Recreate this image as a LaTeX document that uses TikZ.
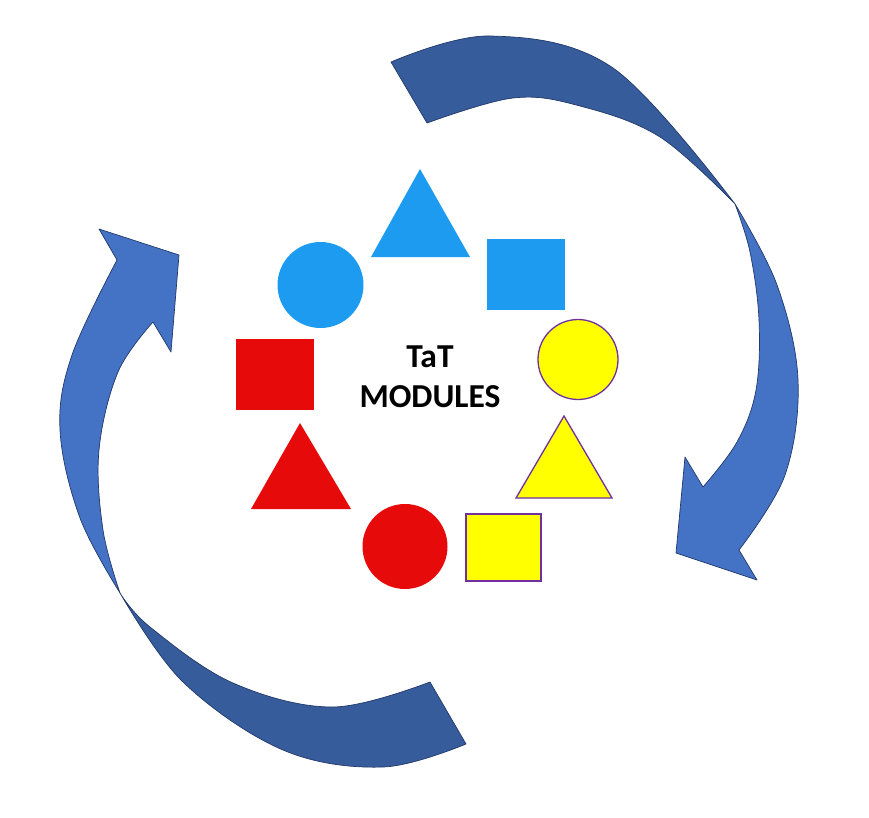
\documentclass[tikz,border=0pt]{standalone}
\usepackage{fontspec}
\setmainfont{Carlito}
\definecolor{arrowdark}{HTML}{375C9B}
\definecolor{arrowlight}{HTML}{4472C4}
\definecolor{arrowedge}{HTML}{22396A}
\definecolor{skyblue}{HTML}{1C9BF0}
\definecolor{modred}{HTML}{E60A0A}
\definecolor{modyellow}{HTML}{FFFF00}
\definecolor{modpurple}{HTML}{7030A0}
\tikzset{
  darkband/.style={fill=arrowdark, draw=arrowedge, line width=0.7pt, line join=round},
  lightband/.style={fill=arrowlight, draw=arrowedge, line width=0.7pt, line join=round},
  bluefill/.style={fill=skyblue},
  redfill/.style={fill=modred},
  yellowfill/.style={fill=modyellow, draw=modpurple, line width=1.3pt},
  title/.style={font=\fontsize{33.5}{40}\selectfont\bfseries, anchor=base, inner sep=0pt},
  sm/.style={smooth, tension=0.6}
}
\begin{document}
\begin{tikzpicture}[x=1pt,y=-1pt]
\useasboundingbox (0,0) rectangle (869,818);
% ---- top-right curved arrow ----
\fill[darkband] plot[sm] coordinates {(391,62) (490,36) (613,68) (735,204)}
  -- plot[sm] coordinates {(735,204) (660,137) (580,106) (513,98) (427,123)} -- cycle;
\fill[lightband] plot[sm] coordinates {(735,204) (777,285) (798,380) (785,475) (739,550)}
  -- (757,580) -- (676,553) -- (685,457) -- (703,487)
  -- plot[sm] coordinates {(703,487) (737,442) (756,390) (759,320) (750,252) (735,204)} -- cycle;
% ---- bottom-left curved arrow ----
\fill[darkband] plot[sm] coordinates {(120,593) (183,682) (283,750) (383,767) (466,744)}
  -- (430,682)
  -- plot[sm] coordinates {(430,682) (333,707) (233,683) (150,627) (120,593)} -- cycle;
\fill[lightband] plot[sm] coordinates {(120,593) (80,518) (60,430) (72,355) (117,260)}
  -- (99,229) -- (179,255) -- (171,352) -- (153,322)
  -- plot[sm] coordinates {(153,322) (118,372) (99,450) (103,530) (120,593)} -- cycle;
% ---- blue shapes ----
\fill[bluefill] (371,257) -- (420,169) -- (470,257) -- cycle;
\fill[bluefill] (487,239) rectangle (565,310);
\fill[bluefill] (320.5,285) circle[radius=43];
% ---- red shapes ----
\fill[redfill] (236,339) rectangle (314,410);
\fill[redfill] (251,509) -- (300,423) -- (351,509) -- cycle;
\fill[redfill] (405,546.5) circle[radius=42.5];
% ---- yellow shapes ----
\filldraw[yellowfill] (578,359.5) circle[radius=40];
\filldraw[yellowfill] (516,498) -- (564,416) -- (612,498) -- cycle;
\filldraw[yellowfill] (466,514) rectangle (541,581);
% ---- text ----
\node[title] (tat) at (430,367) {TaT};
\node[title] (mod) at (430,407) {MODULES};
\end{tikzpicture}
\end{document}
